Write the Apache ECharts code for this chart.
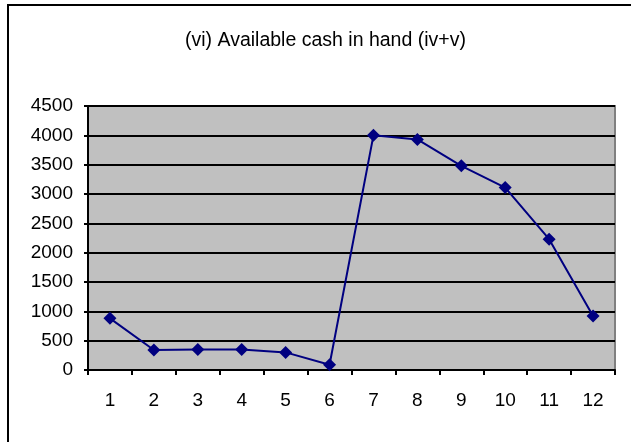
<!DOCTYPE html>
<html>
<head>
<meta charset="utf-8">
<script src="https://cdn.jsdelivr.net/npm/echarts@6/dist/echarts.min.js"></script>
<style>
  html, body { margin: 0; padding: 0; background: #fff; }
  #chart { width: 631px; height: 442px; }
</style>
</head>
<body>
<div id="chart"></div>
<script>
const months = ['1', '2', '3', '4', '5', '6', '7', '8', '9', '10', '11', '12']
const cashInHand = [880, 340, 350, 350, 300, 90, 4000, 3930, 3480, 3110, 2230, 920]
const yMin = 0
const yMax = 4500
const yStep = 500

const font = "'Liberation Sans', Arial, sans-serif"

const chart = echarts.init(document.getElementById('chart'))

const option = {
  animation: false,
  backgroundColor: '#fff',
  title: {
    text: '(vi) Available cash in hand (iv+v)',
    left: 180,
    top: 26,
    textStyle: { fontFamily: font, fontSize: 19.5, fontWeight: 'normal', color: '#000' },
  },
  graphic: [
    {
      type: 'rect',
      shape: { x: 8, y: 5, width: 700, height: 500 },
      style: { fill: 'none', stroke: '#000', lineWidth: 2 },
      z: 100,
    },
  ],
  grid: {
    left: 88,
    right: 16,
    top: 106,
    bottom: 72,
    show: true,
    backgroundColor: '#c0c0c0',
    borderColor: '#808080',
    borderWidth: 2,
  },
  xAxis: {
    type: 'category',
    data: months,
    boundaryGap: true,
    axisLine: { lineStyle: { color: '#000', width: 2 } },
    axisTick: { show: true, length: 5, lineStyle: { color: '#000', width: 2 } },
    axisLabel: { fontFamily: font, fontSize: 19, color: '#000', margin: 21 },
    splitLine: { show: false },
  },
  yAxis: {
    type: 'value',
    min: yMin,
    max: yMax,
    interval: yStep,
    axisLine: { show: true, lineStyle: { color: '#000', width: 2 } },
    axisTick: { show: true, length: 4, lineStyle: { color: '#000', width: 2 } },
    axisLabel: { fontFamily: font, fontSize: 19, color: '#000', margin: 15, formatter: (v) => String(v) },
    splitLine: { show: true, lineStyle: { color: '#000', width: 2 } },
  },
  series: [
    {
      type: 'line',
      data: cashInHand,
      symbol: 'diamond',
      symbolSize: 13,
      lineStyle: { color: '#000080', width: 2 },
      itemStyle: { color: '#000080' },
    },
  ],
}

chart.setOption(option)
</script>
</body>
</html>
